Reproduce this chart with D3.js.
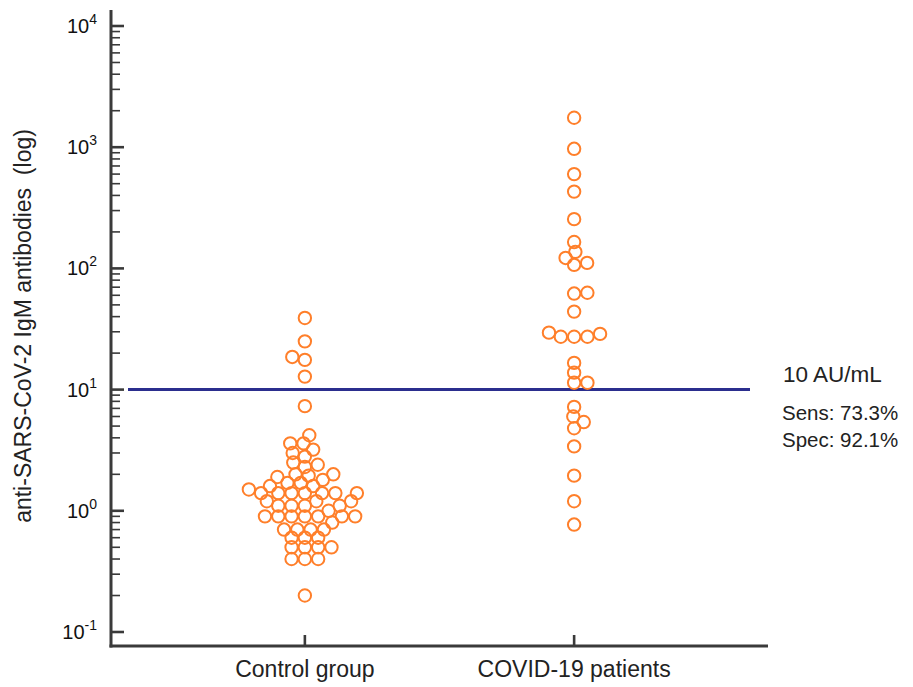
<!DOCTYPE html>
<html>
<head>
<meta charset="utf-8">
<script src="https://cdn.jsdelivr.net/npm/d3@7"></script>
<style>
  html, body { margin: 0; padding: 0; background: #fff; }
  svg { display: block; font-family: "Liberation Sans", Arial, sans-serif; }
</style>
</head>
<body>
<svg id="chart" width="913" height="687"></svg>
<script>
'use strict';

// ─── Data ────────────────────────────────────────────────────────────────────
const categories = ['Control group', 'COVID-19 patients'];

// anti-SARS-CoV-2 IgM (AU/mL)
const controlValues = [
  39, 25, 18.6, 17.6, 12.8,
  7.3, 4.2, 3.6, 3.6, 3.2, 3.0, 2.8,
  2.5, 2.4, 2.3,
  2.0, 2.0, 1.95, 1.9, 1.8, 1.7, 1.7,
  1.6, 1.6, 1.4, 1.4, 1.4, 1.4, 1.4, 1.4, 1.4,
  1.2, 1.2, 1.2, 1.1, 1.1, 1.1, 1.1, 1.0,
  0.9, 0.9, 0.9, 0.9, 0.9, 0.9, 0.9, 0.8,
  0.7, 0.7, 0.7, 0.7, 0.6, 0.6, 0.6,
  0.5, 0.5, 0.5, 0.5, 0.4, 0.4, 0.4, 0.2, 1.5
];
const covidValues = [
  1750, 970, 600, 430, 255, 165, 137, 122, 111, 107,
  63, 62, 44, 29.5, 28.8, 27.3, 27.3, 27.3, 16.6, 13.8,
  11.4, 11.4, 7.2, 6.0, 5.4, 4.8, 3.4, 1.95, 1.2, 0.77
];
const groupValues = [controlValues, covidValues];

const cutoff = 10;
const cutoffLabel = '10 AU/mL';
const statLabels = ['Sens: 73.3%', 'Spec: 92.1%'];
const yDecades = [0.1, 1, 10, 100, 1000, 10000];
const yTitle = 'anti-SARS-CoV-2 IgM antibodies\u00a0 (log)';

// ─── Layout ──────────────────────────────────────────────────────────────────
const AXIS_X = 111, AXIS_RIGHT = 768, AXIS_Y = 646, AXIS_TOP = 10;
const R = 6.2, GAP_X = 13.3, GAP_Y = 9;
const ORANGE = '#ff7f2a', NAVY = '#2b2e8e', INK = '#3a3a3a';

const svg = d3.select('#chart');

const y = d3.scaleLog().domain([0.1, 10000]).range([632, 26]);
const x = d3.scalePoint().domain(categories).range([AXIS_X, AXIS_RIGHT]).padding(0.72);

// ─── Beeswarm placement (x offset closest to centre, rows may overlap a bit) ─
function swarm(values) {
  const pts = values.map(v => ({ v, y: y(v) })).sort((a, b) => b.y - a.y);
  const placed = [];
  pts.forEach((p, i) => {
    const blocked = [];
    placed.forEach(q => {
      const dy = Math.abs(q.y - p.y);
      if (dy < GAP_Y) {
        const w = GAP_X * Math.sqrt(1 - (dy / GAP_Y) ** 2);
        blocked.push([q.dx - w, q.dx + w]);
      }
    });
    const cands = [0];
    blocked.forEach(b => cands.push(b[0], b[1]));
    const ok = c => blocked.every(b => c <= b[0] + 1e-6 || c >= b[1] - 1e-6);
    const side = i % 2 ? 1 : -1;
    cands.sort((a, b) => (Math.abs(a) - Math.abs(b)) || (side * (b - a)));
    p.dx = cands.find(ok);
    placed.push(p);
  });
  return placed;
}

// ─── Cut-off line ────────────────────────────────────────────────────────────
svg.append('line')
  .attr('x1', 128).attr('x2', 750)
  .attr('y1', y(cutoff)).attr('y2', y(cutoff))
  .attr('stroke', NAVY).attr('stroke-width', 3);

// ─── Points ──────────────────────────────────────────────────────────────────
groupValues.forEach((vals, gi) => {
  const cx = x(categories[gi]);
  svg.append('g').selectAll('circle')
    .data(swarm(vals))
    .join('circle')
    .attr('cx', d => cx + d.dx)
    .attr('cy', d => d.y)
    .attr('r', R)
    .attr('fill', 'none')
    .attr('stroke', ORANGE)
    .attr('stroke-width', 2);
});

// ─── Y axis (log) ────────────────────────────────────────────────────────────
const yAxis = svg.append('g');
yAxis.append('line')
  .attr('x1', AXIS_X).attr('x2', AXIS_X)
  .attr('y1', AXIS_TOP).attr('y2', AXIS_Y + 1.5)
  .attr('stroke', INK).attr('stroke-width', 3);

const minorTicks = [];
yDecades.slice(0, -1).forEach(d => {
  for (let k = 2; k <= 9; k++) minorTicks.push(d * k);
});
yAxis.selectAll('line.minor')
  .data(minorTicks)
  .join('line').attr('class', 'minor')
  .attr('x1', AXIS_X).attr('x2', AXIS_X + 9)
  .attr('y1', d => y(d)).attr('y2', d => y(d))
  .attr('stroke', INK).attr('stroke-width', 1.6);
yAxis.selectAll('line.major')
  .data(yDecades)
  .join('line').attr('class', 'major')
  .attr('x1', AXIS_X).attr('x2', AXIS_X + 13)
  .attr('y1', d => y(d)).attr('y2', d => y(d))
  .attr('stroke', INK).attr('stroke-width', 2.6);

const tickText = yAxis.selectAll('text')
  .data(yDecades)
  .join('text')
  .attr('x', 97)
  .attr('y', d => y(d) + 7)
  .attr('text-anchor', 'end')
  .attr('font-size', 20)
  .attr('fill', '#111');
tickText.append('tspan').text('10');
tickText.append('tspan')
  .attr('dy', -9).attr('font-size', 14)
  .text(d => String(Math.round(Math.log10(d))));

svg.append('text')
  .attr('transform', 'translate(31,326) rotate(-90)')
  .attr('text-anchor', 'middle')
  .attr('font-size', 23)
  .attr('fill', '#222')
  .text(yTitle);

// ─── X axis ──────────────────────────────────────────────────────────────────
const xAxis = svg.append('g');
xAxis.append('line')
  .attr('x1', AXIS_X - 1.5).attr('x2', AXIS_RIGHT)
  .attr('y1', AXIS_Y).attr('y2', AXIS_Y)
  .attr('stroke', INK).attr('stroke-width', 3);
xAxis.selectAll('line.tick')
  .data(categories)
  .join('line').attr('class', 'tick')
  .attr('x1', d => x(d)).attr('x2', d => x(d))
  .attr('y1', AXIS_Y).attr('y2', AXIS_Y - 11)
  .attr('stroke', INK).attr('stroke-width', 2.6);
xAxis.selectAll('text')
  .data(categories)
  .join('text')
  .attr('x', d => x(d))
  .attr('y', 677)
  .attr('text-anchor', 'middle')
  .attr('font-size', 23)
  .attr('fill', '#222')
  .text(d => d);

// ─── Annotations ─────────────────────────────────────────────────────────────
svg.append('text')
  .attr('x', 783).attr('y', 382)
  .attr('font-size', 22.5)
  .attr('fill', '#222')
  .text(cutoffLabel);
svg.selectAll('text.stat')
  .data(statLabels)
  .join('text').attr('class', 'stat')
  .attr('x', 782)
  .attr('y', (d, i) => 420 + i * 27)
  .attr('font-size', 20.5)
  .attr('fill', '#222')
  .text(d => d);
</script>
</body>
</html>
